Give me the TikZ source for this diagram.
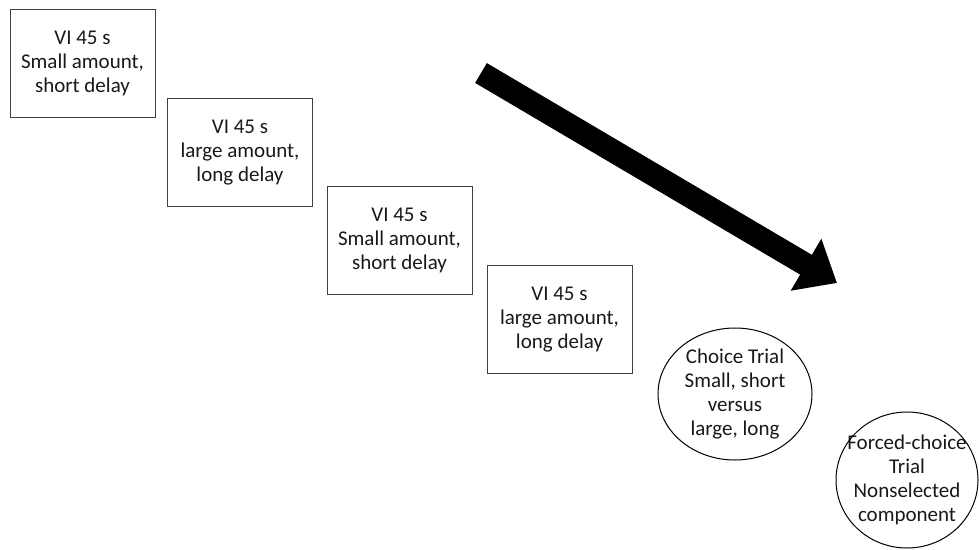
\documentclass[tikz,border=0pt]{standalone}
\usepackage{fontspec}
\setmainfont{Carlito}
\usetikzlibrary{shapes.geometric,arrows.meta}
\begin{document}
\begin{tikzpicture}[x=1pt,y=-1pt,
  txt/.style={font=\fontsize{21}{24}\selectfont, align=center, text=black!90},
  boxnode/.style={txt, draw=black!75, line width=1pt, rectangle, inner sep=0pt, minimum width=145pt, minimum height=108pt},
  ovalnode/.style={txt, inner sep=0pt},
  ovalline/.style={draw=black, line width=1pt}]
\useasboundingbox[fill=white] (0,0) rectangle (979,549);
\node[boxnode] (b1) at (82.5,63) {VI 45 s\\Small amount,\\short delay};
\node[boxnode] (b2) at (240,152.5) {VI 45 s\\large amount,\\long delay};
\node[boxnode] (b3) at (399.5,240.5) {VI 45 s\\Small amount,\\short delay};
\node[boxnode] (b4) at (559.5,319.5) {VI 45 s\\large amount,\\long delay};
\node[ovalnode] (c1) at (735,394) {Choice Trial\\Small, short\\versus\\large, long};
\draw[ovalline] (c1.center) ellipse [x radius=77, y radius=66];
\node[ovalnode] (c2) at (907,480) {Forced-choice\\Trial\\Nonselected\\component};
\draw[ovalline] (c2.center) ellipse [x radius=71, y radius=68];
\coordinate (at) at (481,73);
\coordinate (ah) at (837,283);
\draw[line width=23pt, -{Triangle[length=36pt,width=58pt]}] (at) -- (ah);
\end{tikzpicture}
\end{document}
